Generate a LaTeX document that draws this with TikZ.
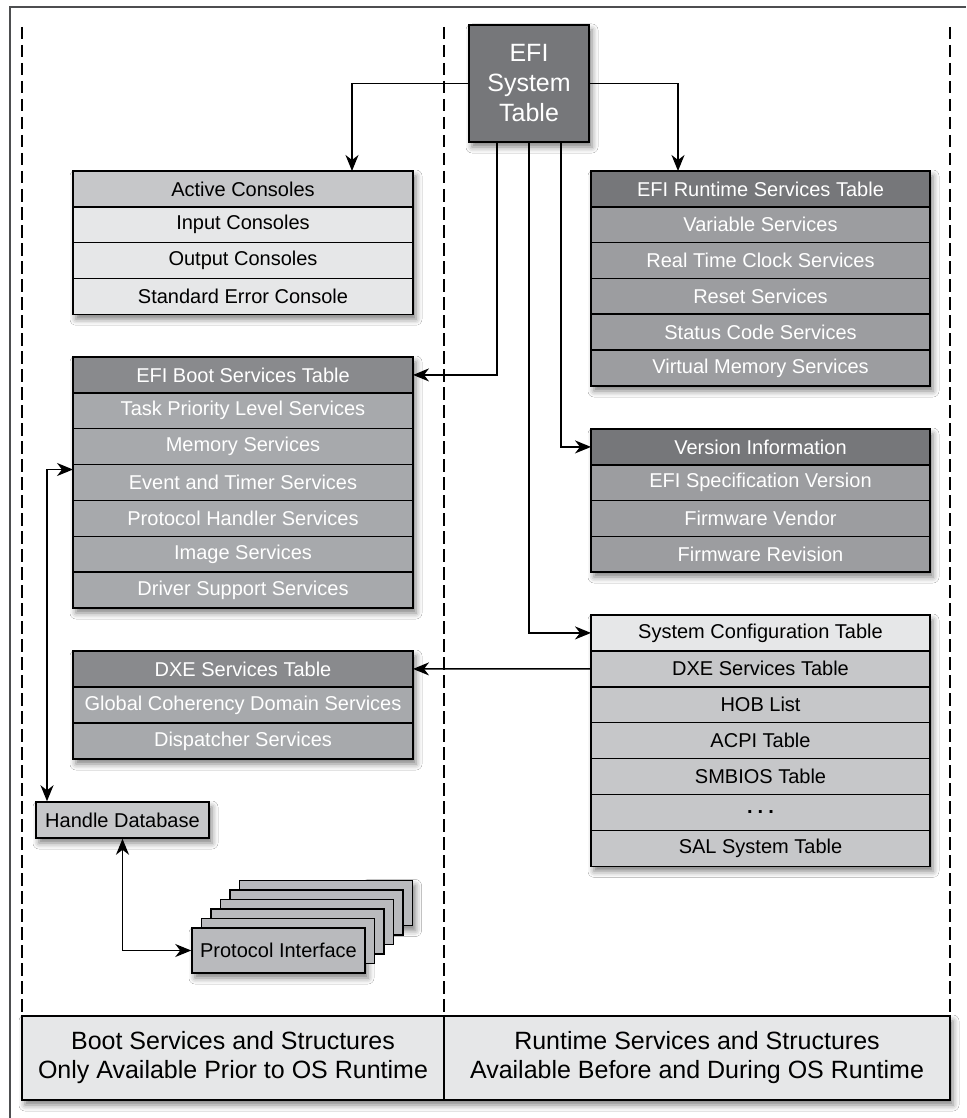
\documentclass[tikz,border=0pt]{standalone}
\usepackage{fontspec}
\setmainfont{Liberation Sans}
\usetikzlibrary{arrows.meta,shadows.blur}
\definecolor{cdark}{HTML}{76777A}
\definecolor{cmid}{HTML}{898A8D}
\definecolor{cboot}{HTML}{A7A9AC}
\definecolor{crt}{HTML}{9C9DA0}
\definecolor{clight}{HTML}{C6C7C9}
\definecolor{cpale}{HTML}{E6E7E8}
\definecolor{cproto}{HTML}{B9BABD}
\definecolor{cframe}{HTML}{4D4E50}
\begin{document}
\begin{tikzpicture}[x=1pt,y=-1pt,
  >={Stealth[length=16pt,width=13pt,inset=5pt]},
  shad/.style={blur shadow={shadow xshift=3pt, shadow yshift=-5pt, shadow blur radius=6pt, shadow opacity=50}},
  shadowbox/.style={fill=white, inner sep=0pt, outer sep=0pt, anchor=north west, shad},
  row/.style={draw=black, line width=1.5pt, minimum width=340pt, minimum height=35.85pt,
    inner sep=0pt, outer sep=0pt, anchor=north, font=\fontsize{20}{24}\selectfont},
  wrow/.style={row, text=white},
  conn/.style={->, line width=1.4pt},
  conn2/.style={<->, line width=1.4pt},
  dashline/.style={line width=1.2pt, dash pattern=on 12.5pt off 5.5pt},
  barcell/.style={draw=black, line width=1.5pt, fill=cpale, minimum height=84pt, inner sep=0pt,
    align=center, font=\fontsize{25}{29}\selectfont},
  proto/.style={draw=black, line width=1.5pt, fill=cproto, minimum width=173pt, minimum height=45pt,
    inner sep=0pt, font=\fontsize{20}{24}\selectfont}
]
\useasboundingbox (0,0) rectangle (966,1118);
\fill[white] (0,0) rectangle (966,1118);

% frame
\draw[cframe, line width=1.2pt] (10,1118) -- (10,7) -- (966,7);

% dashed separators
\draw[dashline] (22,27) -- (22,1016);
\draw[dashline] (444,27) -- (444,1016);
\draw[dashline] (950,27) -- (950,1016);

% shadow outlines of the tables
\node[shadowbox, minimum width=340pt, minimum height=143.2pt] (consoles) at (73,171) {};
\node[shadowbox, minimum width=340pt, minimum height=251pt] (boot) at (73,357) {};
\node[shadowbox, minimum width=340pt, minimum height=108pt] (dxe) at (73,651) {};
\node[shadowbox, minimum width=339pt, minimum height=215pt] (runtime) at (591,171) {};
\node[shadowbox, minimum width=339pt, minimum height=143pt] (version) at (591,429) {};
\node[shadowbox, minimum width=339pt, minimum height=251.3pt] (sysconf) at (591,615) {};
\node[shadowbox, minimum width=928pt, minimum height=84pt] (bar) at (22,1016) {};
\node[shadowbox, minimum width=173pt, minimum height=45pt] (pistack) at (192,928) {};
\node[shadowbox, minimum width=47.5pt, minimum height=45pt] (pitop) at (365,880.5) {};

% EFI System Table
\node[draw=black, fill=cdark, text=white, line width=1.6pt, minimum width=120pt, minimum height=117pt,
  align=center, font=\fontsize{25}{30}\selectfont, inner sep=0pt, shad]
  (efi) at (529,83.5) {EFI\\System\\Table};

% Consoles
\node[row, fill=clight] (con0) at (243,171) {Active Consoles};
\foreach \t [count=\i] in {Input Consoles, Output Consoles, Standard Error Console}
  \node[row, fill=cpale] (con\i) at (243,{171+35.8*\i}) {\t};

% Boot services
\node[wrow, fill=cmid] (bs0) at (243,357) {EFI Boot Services Table};
\foreach \t [count=\i] in {Task Priority Level Services, Memory Services, Event and Timer Services,
    Protocol Handler Services, Image Services, Driver Support Services}
  \node[wrow, fill=cboot] (bs\i) at (243,{357+35.86*\i}) {\t};

% DXE services (left)
\node[wrow, fill=cmid] (dx0) at (243,651) {DXE Services Table};
\foreach \t [count=\i] in {Global Coherency Domain Services, Dispatcher Services}
  \node[wrow, fill=cboot] (dx\i) at (243,{651+36*\i}) {\t};

% Runtime services
\node[wrow, fill=cdark, minimum width=339pt] (rt0) at (760.5,171) {EFI Runtime Services Table};
\foreach \t [count=\i] in {Variable Services, Real Time Clock Services, Reset Services,
    Status Code Services, Virtual Memory Services}
  \node[wrow, fill=crt, minimum width=339pt] (rt\i) at (760.5,{171+35.8*\i}) {\t};

% Version information
\node[wrow, fill=cdark, minimum width=339pt] (ver0) at (760.5,429) {Version Information};
\foreach \t [count=\i] in {EFI Specification Version, Firmware Vendor, Firmware Revision}
  \node[wrow, fill=crt, minimum width=339pt] (ver\i) at (760.5,{429+35.75*\i}) {\t};

% System configuration table
\node[row, fill=cpale, minimum width=339pt] (sc0) at (760.5,615) {System Configuration Table};
\foreach \t [count=\i] in {DXE Services Table, HOB List, ACPI Table, SMBIOS Table,
    {\textbf{.\hspace{5pt}.\hspace{5pt}.}}, SAL System Table}
  \node[row, fill=clight, minimum width=339pt] (sc\i) at (760.5,{615+35.9*\i}) {\t};

% Handle database
\node[draw=black, line width=1.5pt, fill=clight, minimum width=173pt, minimum height=36pt, inner sep=0pt,
  font=\fontsize{20}{24}\selectfont, shad]
  (hdb) at (122.5,820) {Handle Database};

% Protocol interface stack
\foreach \k in {5,4,...,1}
  \node[proto] (pi\k) at ({278.5+9.5*\k},{950.5-9.5*\k}) {};
\node[proto] (pi0) at (278.5,950.5) {Protocol Interface};

% bottom bar
\node[barcell, minimum width=422pt] (barL) at (233,1058) {Boot Services and Structures\\Only Available Prior to OS Runtime};
\node[barcell, minimum width=506pt] (barR) at (697,1058) {Runtime Services and Structures\\Available Before and During OS Runtime};

% connectors
\draw[conn] (efi.west) -| ([xshift=109pt]con0.north);
\draw[conn] (efi.east) -| ([xshift=-82.5pt]rt0.north);
\draw[conn] ([xshift=-32pt]efi.south) |- (bs0.east);
\draw[conn] (efi.south) |- (sc0.west);
\draw[conn] ([xshift=32pt]efi.south) |- (ver0.west);
\draw[conn] (sc1.west) -- (dx0.east);
\draw[conn2] ([xshift=-75.5pt]hdb.north) |- ([yshift=13pt]bs3.west);
\draw[conn2] (hdb.south) |- (pi0.west);
\end{tikzpicture}
\end{document}
